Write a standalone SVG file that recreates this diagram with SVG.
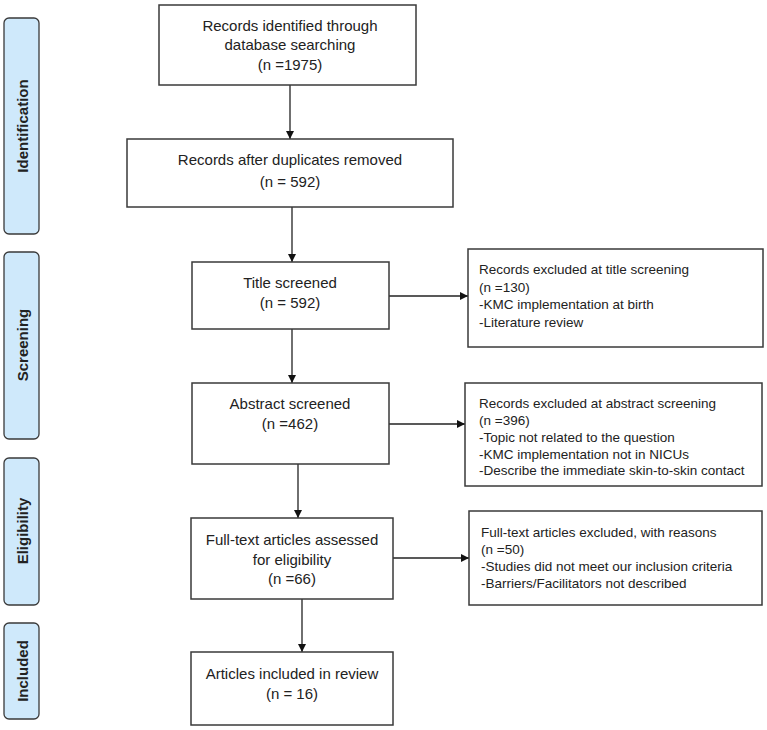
<svg xmlns="http://www.w3.org/2000/svg" width="767" height="730" viewBox="0 0 767 730">
<style>
.box{fill:#fff;stroke:#3a3a3a;stroke-width:1.5}
.side{fill:#cfe9fb;stroke:#3a3a3a;stroke-width:1.3}
.t{font-family:"Liberation Sans",Arial,sans-serif;font-size:15px;fill:#222;text-anchor:middle}
.e{font-family:"Liberation Sans",Arial,sans-serif;font-size:13.5px;fill:#222}
.s{font-family:"Liberation Sans",Arial,sans-serif;font-size:15px;font-weight:bold;fill:#222;text-anchor:middle}
.c{stroke:#222;stroke-width:1.3;fill:none;marker-end:url(#ah)}
</style>
<defs>
<marker id="ah" viewBox="0 0 10 10" refX="10" refY="5" markerWidth="8" markerHeight="8" markerUnits="userSpaceOnUse" orient="auto">
<path d="M0,0 L10,5 L0,10 z" fill="#111"/>
</marker>
</defs>
<rect width="767" height="730" fill="#fff"/>
<g id="phase-identification">
<rect class="side" x="4" y="18" width="35" height="216" rx="5"/>
<text class="s" transform="translate(28,126) rotate(-90)">Identification</text>
</g>
<g id="phase-screening">
<rect class="side" x="4" y="252" width="35" height="187" rx="5"/>
<text class="s" transform="translate(28,345) rotate(-90)">Screening</text>
</g>
<g id="phase-eligibility">
<rect class="side" x="4" y="458" width="35" height="147" rx="5"/>
<text class="s" transform="translate(28,531) rotate(-90)">Eligibility</text>
</g>
<g id="phase-included">
<rect class="side" x="4" y="623" width="35" height="96" rx="5"/>
<text class="s" transform="translate(28,671) rotate(-90)">Included</text>
</g>
<g id="connectors">
<path class="c" d="M290,85 V139"/>
<path class="c" d="M292,207 V262"/>
<path class="c" d="M292,329 V383"/>
<path class="c" d="M298,464 V518"/>
<path class="c" d="M302,599 V652"/>
<path class="c" d="M389,296 H468"/>
<path class="c" d="M389,424 H465"/>
<path class="c" d="M393,558 H469"/>
</g>
<g id="n1">
<rect class="box" x="159" y="5" width="257" height="80"/>
<text class="t" x="290" y="31">Records identified through</text>
<text class="t" x="290" y="50">database searching</text>
<text class="t" x="290" y="70">(n =1975)</text>
</g>
<g id="n2">
<rect class="box" x="127" y="139" width="326" height="68"/>
<text class="t" x="290" y="165">Records after duplicates removed</text>
<text class="t" x="290" y="187">(n = 592)</text>
</g>
<g id="n3">
<rect class="box" x="192" y="262" width="197" height="67"/>
<text class="t" x="290" y="288">Title screened</text>
<text class="t" x="290" y="308">(n = 592)</text>
</g>
<g id="n4">
<rect class="box" x="192" y="383" width="197" height="81"/>
<text class="t" x="290" y="409">Abstract screened</text>
<text class="t" x="290" y="429">(n =462)</text>
</g>
<g id="n5">
<rect class="box" x="191" y="518" width="202" height="81"/>
<text class="t" x="292" y="545">Full-text articles assessed</text>
<text class="t" x="292" y="565">for eligibility</text>
<text class="t" x="292" y="584">(n =66)</text>
</g>
<g id="n6">
<rect class="box" x="191" y="652" width="202" height="73"/>
<text class="t" x="292" y="679">Articles included in review</text>
<text class="t" x="292" y="699">(n = 16)</text>
</g>
<g id="x1">
<rect class="box" x="468" y="249" width="295" height="98"/>
<text class="e" x="479" y="274">Records excluded at title screening</text>
<text class="e" x="479" y="291.5">(n =130)</text>
<text class="e" x="479" y="309">-KMC implementation at birth</text>
<text class="e" x="479" y="326.5">-Literature review</text>
</g>
<g id="x2">
<rect class="box" x="465" y="383" width="297" height="103"/>
<text class="e" x="479" y="408">Records excluded at abstract screening</text>
<text class="e" x="479" y="425">(n =396)</text>
<text class="e" x="479" y="442">-Topic not related to the question</text>
<text class="e" x="479" y="458.5">-KMC implementation not in NICUs</text>
<text class="e" x="479" y="475">-Describe the immediate skin-to-skin contact</text>
</g>
<g id="x3">
<rect class="box" x="469" y="511" width="293" height="94"/>
<text class="e" x="481" y="537">Full-text articles excluded, with reasons</text>
<text class="e" x="481" y="554">(n =50)</text>
<text class="e" x="481" y="571">-Studies did not meet our inclusion criteria</text>
<text class="e" x="481" y="588">-Barriers/Facilitators not described</text>
</g>
</svg>
